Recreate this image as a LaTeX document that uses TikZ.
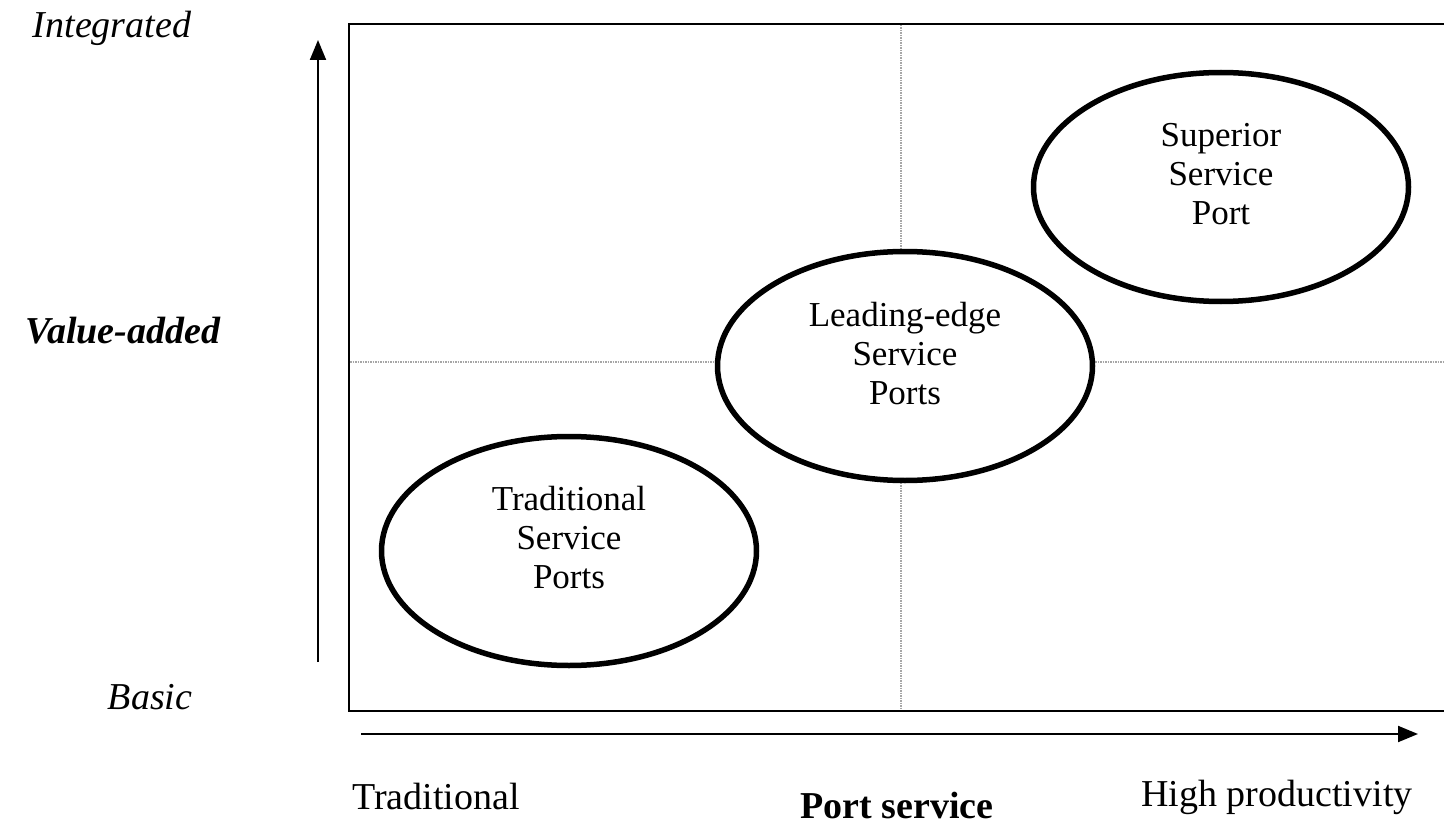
\documentclass[tikz,border=0pt]{standalone}
\usepackage{fontspec}
\setmainfont{Liberation Serif}
\usetikzlibrary{arrows.meta,shapes.geometric}
\begin{document}
\begin{tikzpicture}[x=1pt,y=-1pt,
  axislbl/.style={anchor=base,inner sep=0pt,font=\fontsize{38}{42}\selectfont},
  port/.style={draw=black,fill=white,line width=5.5pt,ellipse,minimum width=375pt,minimum height=229pt,inner sep=0pt},
  porttext/.style={align=center,inner sep=0pt,font=\fontsize{35}{39}\selectfont},
  grid/.style={draw=black!35,line width=1.5pt,dash pattern=on 1.5pt off 1pt},
  axis/.style={draw=black,line width=2pt,-{Triangle[length=20pt,width=16pt]}}]
\useasboundingbox[fill=white] (0,0) rectangle (1444,824);
% frame
\coordinate (fTR) at (1446,24);
\coordinate (fTL) at (349,24);
\coordinate (fBL) at (349,711);
\coordinate (fBR) at (1446,711);
\draw[line width=2pt] (fTR) -- (fTL) -- (fBL) -- (fBR);
% dotted quadrant lines
\coordinate (vT) at (901,25);
\coordinate (vB) at (901,710);
\coordinate (hL) at (350,362);
\coordinate (hR) at (1444,362);
\draw[grid] (vT) -- (vB);
\draw[grid] (hL) -- (hR);
% axes
\coordinate (yS) at (318,662);
\coordinate (yE) at (318,40);
\coordinate (xS) at (361,734);
\coordinate (xE) at (1418,734);
\draw[axis] (yS) -- (yE);
\draw[axis] (xS) -- (xE);
% ellipses
\node[port] (trad) at (569,551) {};
\node[port] (lead) at (905,366) {};
\node[port] (sup) at (1221,187) {};
\node[porttext] (tradT) at (569,538) {Traditional\\Service\\Ports};
\node[porttext] (leadT) at (905,354) {Leading-edge\\Service\\Ports};
\node[porttext] (supT) at (1221,174) {Superior\\Service\\Port};
% axis labels
\node[axislbl,font=\fontsize{38}{42}\selectfont\itshape] (integ) at (112,38) {Integrated};
\node[axislbl,font=\fontsize{38}{42}\selectfont\bfseries\itshape] (vadd) at (123,343) {Value-added};
\node[axislbl,font=\fontsize{38}{42}\selectfont\itshape] (basic) at (150,709) {Basic};
\node[axislbl] (tradx) at (436,809) {Traditional};
\node[axislbl,font=\fontsize{38}{42}\selectfont\bfseries] (pserv) at (897,818) {Port service};
\node[axislbl] (highp) at (1277,806) {High productivity};
\end{tikzpicture}
\end{document}
